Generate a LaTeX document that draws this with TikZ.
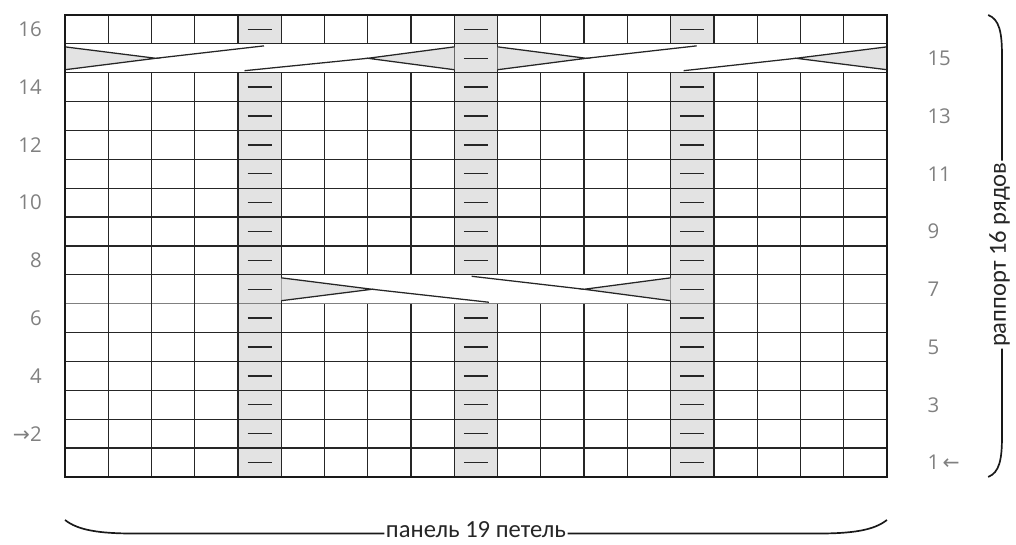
\documentclass[tikz,border=0pt]{standalone}
\usepackage{fontspec}
\setmainfont{Open Sans}
\newfontfamily\labelfont{Carlito}
\newfontfamily\arrowfont{DejaVu Sans}
\usetikzlibrary{positioning}

\begin{document}
\begin{tikzpicture}[x=1.0816cm, y=0.7219cm,
  gridline/.style={line width=0.9pt, draw=black!85},
  frame/.style={line width=2pt, draw=black!90},
  purl/.style={fill=gray!22},
  purlmark/.style={line width=1pt, draw=black!85},
  cable/.style={line width=0.9pt, draw=black!85, fill=gray!22, line join=miter},
  cableline/.style={line width=0.9pt, draw=black!85},
  rownum/.style={font=\fontsize{14.5}{16}\selectfont, text=gray, inner sep=1pt},
  caption/.style={font=\labelfont\fontsize{17.5}{20}\selectfont, text=black!85, inner sep=1pt},
  brace/.style={line width=1.2pt, draw=black!90}
]
\useasboundingbox (-1.5026,-2.355) rectangle (21.984,16.519);

% Purl columns
\foreach \c/\gap in {4/14, 9/6, 14/14} {
  \fill[purl] (\c,0) rectangle (\c+1,\gap);
  \fill[purl] (\c,\gap+1) rectangle (\c+1,16);
  \foreach \r in {0,...,15} {
    \ifnum\r=\gap\else
      \draw[purlmark] (\c+0.22,\r+0.5) -- (\c+0.78,\r+0.5);
    \fi
  }
}

% Grid
\foreach \r in {1,...,5,7,8,...,15}
  \draw[gridline] (0,\r) -- (19,\r);
\draw[line width=0.6pt, draw=gray] (0,6) -- (19,6);
\foreach \c in {1,...,18} {
  \draw[gridline] (\c,0) -- (\c,6);
  \draw[gridline] (\c,7) -- (\c,14);
  \draw[gridline] (\c,15) -- (\c,16);
}
\foreach \c in {1,...,5,14,15,...,18}
  \draw[gridline] (\c,6) -- (\c,7);
\foreach \c in {9,10}
  \draw[gridline] (\c,14) -- (\c,15);

% Cable, row 15
\filldraw[cable] (0,14.896) -- (2.1,14.5) -- (0,14.104);
\filldraw[cable] (9,14.896) -- (7,14.5) -- (9,14.104);
\filldraw[cable] (10,14.896) -- (12.05,14.5) -- (10,14.104);
\filldraw[cable] (19,14.896) -- (16.9,14.5) -- (19,14.104);
\draw[cableline] (2.1,14.5) -- (4.6,14.93);
\draw[cableline] (4.15,14.07) -- (7,14.5);
\draw[cableline] (12.05,14.5) -- (14.6,14.93);
\draw[cableline] (14.3,14.07) -- (16.9,14.5);

% Cable, row 7
\filldraw[cable] (5,6.896) -- (7.1,6.5) -- (5,6.104);
\filldraw[cable] (14,6.896) -- (12,6.5) -- (14,6.104);
\draw[cableline] (7.1,6.5) -- (9.8,6.05);
\draw[cableline] (9.4,6.95) -- (12,6.5);

\draw[frame] (0,0) rectangle (19,16);

% Row numbers
\foreach \r in {4,6,...,16}
  \node[rownum, anchor=east] (l\r) at (-0.5,\r-0.5) {\r};
\node[rownum, anchor=east] (l2) at (-0.5,1.5) {{\arrowfont →}2};
\foreach \r in {3,5,...,15}
  \node[rownum, anchor=west] (r\r) at (19.9,\r-0.5) {\r};
\node[rownum, anchor=west] (r1) at (19.9,0.5) {1\,{\arrowfont ←}};

% Braces
\node[caption, anchor=mid] (panel) at (9.5,-1.96) {панель 19 петель};
\draw[brace] (0,-1.49) .. controls (0.3,-1.85) and (0.8,-1.96) .. (1.6,-1.96) -- (panel.mid west);
\draw[brace] (19,-1.49) .. controls (18.7,-1.85) and (18.2,-1.96) .. (17.4,-1.96) -- (panel.mid east);

\node[caption, rotate=90, anchor=mid] (rapport) at (21.66,7.7) {раппорт 16 рядов};
\draw[brace] (21.34,16) .. controls (21.6,15.85) and (21.66,15.4) .. (21.66,14.6) -- (rapport.mid east);
\draw[brace] (21.34,0) .. controls (21.6,0.15) and (21.66,0.6) .. (21.66,1.4) -- (rapport.mid west);
\end{tikzpicture}
\end{document}
